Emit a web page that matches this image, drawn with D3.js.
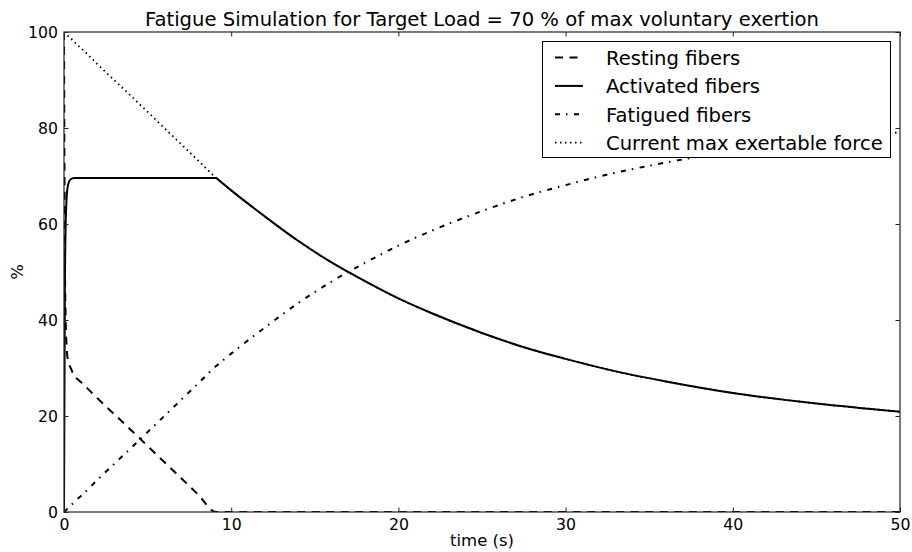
<!DOCTYPE html>
<html>
<head>
<meta charset="utf-8">
<script src="https://cdn.jsdelivr.net/npm/d3@7"></script>
<style>
html,body{margin:0;padding:0;background:#fff;}
svg{display:block;font-family:"DejaVu Sans",sans-serif;}
</style>
</head>
<body>
<svg id="chart" width="912" height="552"></svg>
<script>
const title = "Fatigue Simulation for Target Load = 70 % of max voluntary exertion";
const xLabel = "time (s)";
const yLabel = "%";
const xTicks = [0, 10, 20, 30, 40, 50];
const yTicks = [0, 20, 40, 60, 80, 100];
const seriesNames = ["Resting fibers", "Activated fibers", "Fatigued fibers", "Current max exertable force"];

const time      = [0, 0.05, 0.1, 0.15, 0.2, 0.3, 0.4, 0.6, 0.8, 1, 2, 4, 6, 8, 9.1, 9.2, 10, 12, 14, 16, 18, 20, 22, 25, 28, 30, 33, 36, 40, 45, 50];
const resting   = [100, 55, 40, 35, 32.5, 30.8, 30, 28.4, 27.7, 27.1, 23.7, 17.1, 10.4, 3.7, 0, 0, 0, 0, 0, 0, 0, 0, 0, 0, 0, 0, 0, 0, 0, 0, 0];
const activated = [0, 45, 60, 65, 67.3, 68.8, 69.3, 69.6, 69.6, 69.6, 69.6, 69.6, 69.6, 69.6, 69.6, 69.3, 67.0, 61.6, 56.5, 52.0, 48.1, 44.5, 41.4, 37.3, 33.8, 31.9, 29.3, 27.2, 24.8, 22.6, 20.9];
const fatigued  = [0, 0.2, 0.3, 0.5, 0.7, 1, 1.3, 2, 2.7, 3.3, 6.7, 13.3, 20, 26.7, 30.4, 30.7, 33.0, 38.4, 43.5, 48, 51.9, 55.5, 58.6, 62.7, 66.2, 68.1, 70.7, 72.8, 75.2, 77.4, 79.1];
const maxForce  = [100, 99.8, 99.7, 99.5, 99.3, 99, 98.7, 98, 97.3, 96.7, 93.3, 86.7, 80, 73.3, 69.6, 69.3, 67.0, 61.6, 56.5, 52.0, 48.1, 44.5, 41.4, 37.3, 33.8, 31.9, 29.3, 27.2, 24.8, 22.6, 20.9];

const styles = [
  {dash: "8,6.5", width: 2},
  {dash: null, width: 2},
  {dash: "5,6,1.5,6.5", width: 2},
  {dash: "1.5,3.5", width: 1.8}
];
const seriesData = [resting, activated, fatigued, maxForce];

const svg = d3.select("#chart");
const pL = 64, pR = 900, pT = 32, pB = 512;
const x = d3.scaleLinear().domain([0, 50]).range([pL, pR]);
const y = d3.scaleLinear().domain([0, 100]).range([pB, pT]);

svg.append("defs").append("clipPath").attr("id", "plotclip")
  .append("rect").attr("x", pL).attr("y", pT).attr("width", pR - pL).attr("height", pB - pT);

// series
const line = d3.line().curve(d3.curveMonotoneX);
const g = svg.append("g").attr("clip-path", "url(#plotclip)");
seriesData.forEach((vals, i) => {
  const pts = time.map((t, j) => [x(t), y(vals[j])]);
  g.append("path")
    .attr("d", line(pts))
    .attr("fill", "none")
    .attr("stroke", "#000")
    .attr("stroke-width", styles[i].width)
    .attr("stroke-dasharray", styles[i].dash)
    .attr("stroke-linejoin", "round");
});

// frame
svg.append("rect").attr("x", pL).attr("y", pT).attr("width", pR - pL).attr("height", pB - pT)
  .attr("fill", "none").attr("stroke", "#222").attr("stroke-width", 1.2);

const tickLen = 4.5;
const axB = svg.append("g").attr("transform", `translate(0,${pB})`)
  .call(d3.axisBottom(x).tickValues(xTicks).tickSize(-tickLen).tickPadding(7).tickFormat(d3.format("d")));
const axT = svg.append("g").attr("transform", `translate(0,${pT})`)
  .call(d3.axisTop(x).tickValues(xTicks).tickSize(-tickLen).tickFormat(""));
const axL = svg.append("g").attr("transform", `translate(${pL},0)`)
  .call(d3.axisLeft(y).tickValues(yTicks).tickSize(-tickLen).tickPadding(6).tickFormat(d3.format("d")));
const axR = svg.append("g").attr("transform", `translate(${pR},0)`)
  .call(d3.axisRight(y).tickValues(yTicks).tickSize(-tickLen).tickFormat(""));
[axB, axT, axL, axR].forEach(a => {
  a.select(".domain").remove();
  a.selectAll("line").attr("stroke", "#222");
  a.selectAll("text").attr("font-family", "DejaVu Sans").attr("font-size", 15.7).attr("fill", "#000");
});

// title & labels
svg.append("text").attr("x", (pL + pR) / 2).attr("y", 26).attr("text-anchor", "middle")
  .attr("font-size", 19.6).text(title);
svg.append("text").attr("x", (pL + pR) / 2).attr("y", 546).attr("text-anchor", "middle")
  .attr("font-size", 16.5).text(xLabel);
svg.append("text").attr("transform", `translate(23,${(pT + pB) / 2}) rotate(-90)`).attr("text-anchor", "middle")
  .attr("font-size", 16.5).text(yLabel);

// legend
const lg = svg.append("g");
lg.append("rect").attr("x", 542.5).attr("y", 41.5).attr("width", 348).attr("height", 116)
  .attr("fill", "#fff").attr("stroke", "#000").attr("stroke-width", 1);
seriesNames.forEach((name, i) => {
  const cy = 57.5 + i * 28.4;
  lg.append("line").attr("x1", 555).attr("x2", 583).attr("y1", cy).attr("y2", cy)
    .attr("stroke", "#000").attr("stroke-width", styles[i].width)
    .attr("stroke-dasharray", styles[i].dash);
  lg.append("text").attr("x", 606).attr("y", cy + 7.5).attr("font-size", 19.6).text(name);
});
</script>
</body>
</html>
